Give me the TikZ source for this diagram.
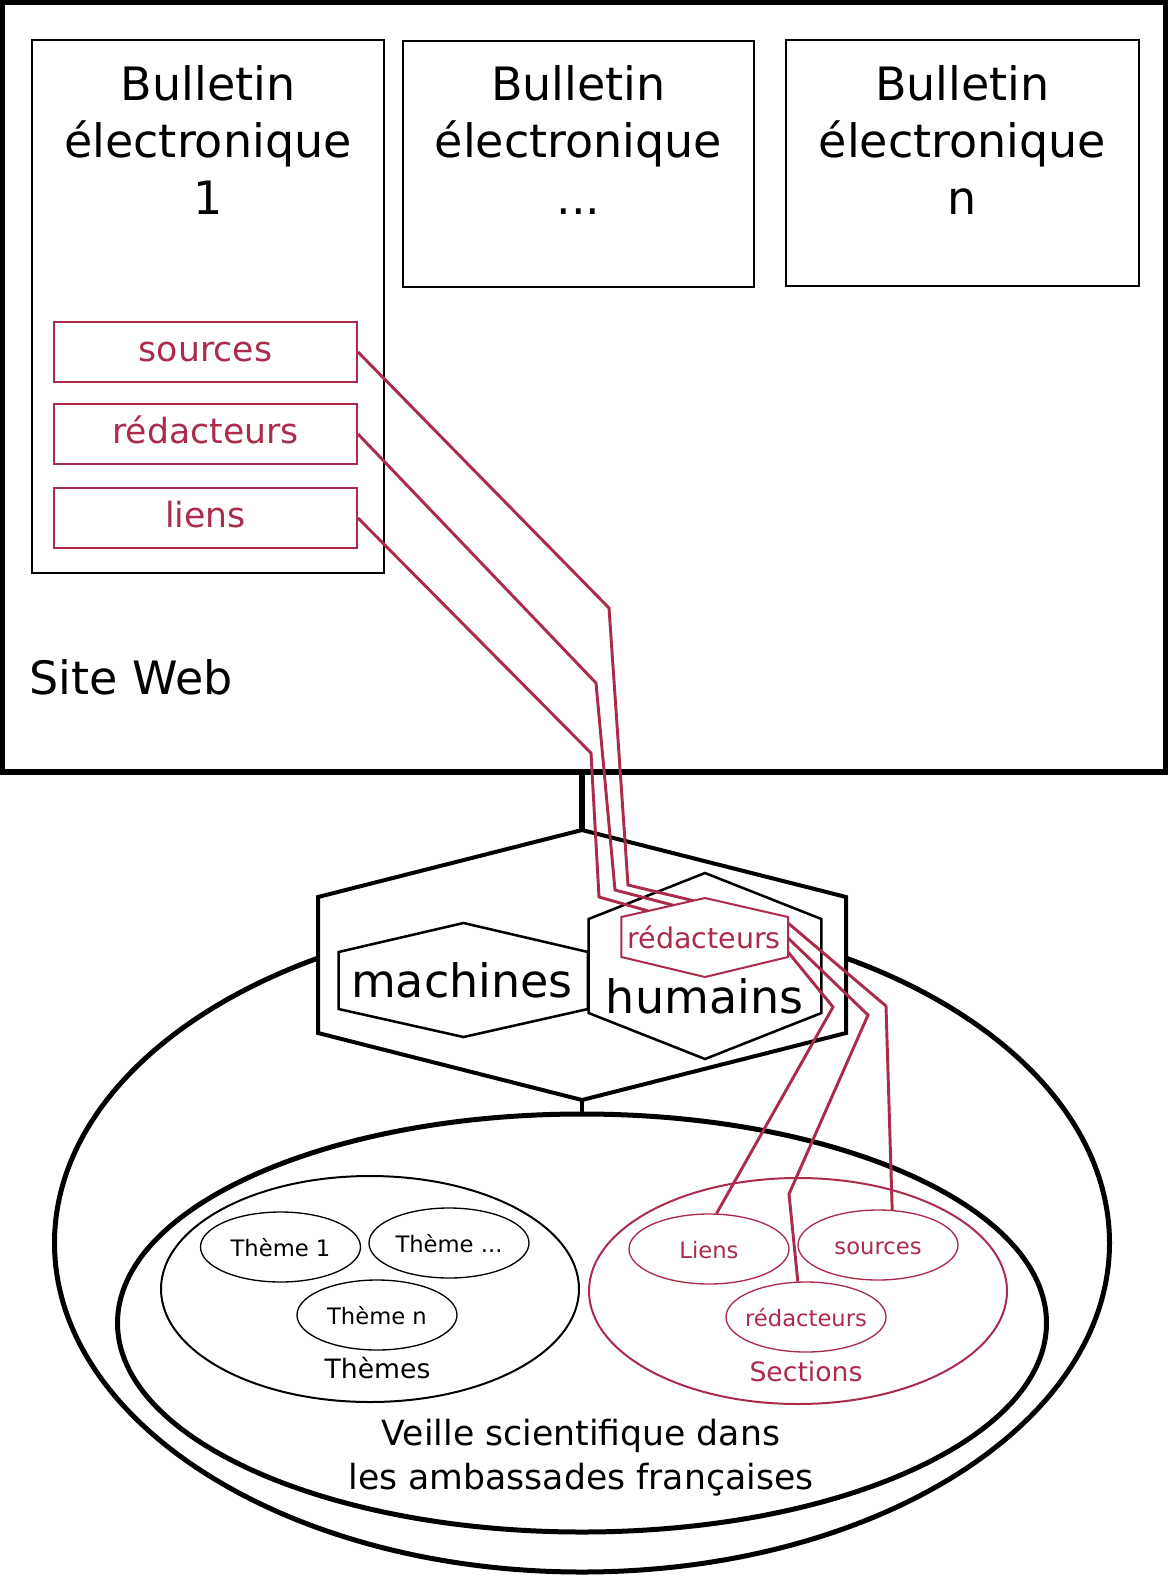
\documentclass[tikz,border=0pt]{standalone}
\usepackage{fontspec}
\setmainfont{DejaVu Sans}
\usetikzlibrary{shapes.geometric,calc}
\definecolor{framboise}{RGB}{170,43,74}
\begin{document}
\begin{tikzpicture}[x=0.75pt, y=-0.75pt,
  cadre/.style={draw=black, line width=4.1pt, minimum width=872.25pt, minimum height=577.1pt},
  bulletin/.style={draw=black, line width=2pt},
  titre/.style={font=\fontsize{34.5}{42.75}\selectfont, align=center, inner sep=0pt, anchor=base},
  champ/.style={draw=framboise, line width=1.5pt, text=framboise, font=\fontsize{26}{31}\selectfont, minimum width=227.25pt, minimum height=45pt, text height=19.8pt, text depth=6.2pt, inner sep=0pt},
  lien/.style={draw=framboise, line width=2.2pt},
  hexgros/.style={draw=black, line width=3pt, fill=white},
  hexfin/.style={draw=black, line width=1.9pt, fill=white},
  hexrouge/.style={draw=framboise, line width=1.5pt, fill=white},
  tige/.style={draw=black, line width=4.5pt},
  globe/.style={shape=ellipse, draw=black, line width=3.75pt},
  groupe/.style={shape=ellipse, draw, line width=1.5pt, minimum width=313.5pt, minimum height=169.5pt},
  petit/.style={shape=ellipse, draw, line width=1pt, minimum width=120pt, minimum height=52.5pt},
  petittexte/.style={font=\fontsize{17}{20}\selectfont, text height=13.6pt, text depth=0pt, inner sep=0pt},
  nomgroupe/.style={font=\fontsize{20}{24}\selectfont, anchor=base, inner sep=0pt}]
\useasboundingbox (0,0) rectangle (1173,1577);
\node[cadre] (site) at (584,387.25) {};
\node[titre, anchor=base west] (siteweb) at (29,694) {Site Web};
\node[bulletin, minimum width=264pt, minimum height=399.75pt] (b1) at (208,306.5) {};
\node[bulletin, minimum width=263.25pt, minimum height=184.5pt] (b2) at (578.5,164) {};
\node[bulletin, minimum width=264.75pt, minimum height=184.5pt] (b3) at (962.5,163) {};
\node[titre] (b1titre) at (208,214) {Bulletin\\électronique\\1};
\node[titre] (b2titre) at (578.5,214) {Bulletin\\électronique\\...};
\node[titre] (b3titre) at (962.5,214) {Bulletin\\électronique\\n};
\node[champ] (src) at (205.5,352) {sources};
\node[champ] (red) at (205.5,434) {rédacteurs};
\node[champ] (lie) at (205.5,518) {liens};
\node[globe, minimum width=791.25pt, minimum height=493.5pt] (veilleext) at (582,1243) {};
\node[globe, minimum width=696.75pt, minimum height=313.5pt] (veilleint) at (582,1323) {};
\draw[hexgros] (582,830) coordinate (noyau-n) -- (846,897) -- (846,1033) -- (582,1100) coordinate (noyau-s) -- (318,1033) -- (318,897) -- cycle;
\draw[tige] (noyau-n) -- (noyau-n |- site.south);
\draw[tige, line width=3.5pt] (noyau-s) -- (noyau-s |- veilleint.north);
\draw[hexfin] (463.5,923) -- (588,952) -- (588,1009) -- (463.5,1037) -- (338.6,1009) -- (338.6,952) -- cycle;
\draw[hexfin] (705,873) -- (821.4,919) -- (821.4,1013) -- (705,1059) -- (588.6,1013) -- (588.6,919) -- cycle;
\node[titre] (machines) at (462,997) {machines};
\node[titre] (humains) at (704.5,1013) {humains};
\draw[hexrouge] (705,898) coordinate (redh-n) -- (788,917) coordinate (redh-ne) -- (788,957) coordinate (redh-se) -- (705,977) -- (621.4,957) -- (621.4,917) coordinate (redh-nw) -- cycle;
\node[font=\fontsize{21.4}{25}\selectfont, text=framboise, anchor=base, inner sep=0pt] (redhtexte) at (704,948) {rédacteurs};
\node[font=\fontsize{26}{33}\selectfont, align=center, anchor=base, inner sep=0pt] (veilletexte) at (581,1489) {Veille scientifique dans\\les ambassades françaises};
\node[groupe] (themes) at (370,1289) {};
\node[petit] (theme1) at (280.5,1247) {};
\node[petit] (theme2) at (449,1243) {};
\node[petit] (theme3) at (377,1315) {};
\node[petittexte] at (theme1) {Thème 1};
\node[petittexte] at (theme2) {Thème ...};
\node[petittexte] at (theme3) {Thème n};
\node[nomgroupe] (themestexte) at (377.5,1378) {Thèmes};
\node[groupe, draw=framboise] (sections) at (798,1291) {};
\node[petit, draw=framboise] (liensec) at (709,1249) {};
\node[petit, draw=framboise] (srcsec) at (878,1245) {};
\node[petit, draw=framboise] (redsec) at (806,1317) {};
\node[petittexte, text=framboise] at (liensec) {Liens};
\node[petittexte, text=framboise] at (srcsec) {sources};
\node[petittexte, text=framboise] at (redsec) {rédacteurs};
\node[nomgroupe, text=framboise] (sectionstexte) at (806,1381) {Sections};
\draw[lien] (src.east) -- (609,608) -- (628,885) -- ($(redh-nw)!0.86!(redh-n)$);
\draw[lien] (red.east) -- (596,683) -- (615,890) -- ($(redh-nw)!0.62!(redh-n)$);
\draw[lien] (lie.east) -- (591,753) -- (599,897) -- ($(redh-nw)!0.32!(redh-n)$);
\draw[lien] ($(redh-ne)!0.15!(redh-se)$) -- (886,1006) -- (srcsec.68);
\draw[lien] ($(redh-ne)!0.525!(redh-se)$) -- (868,1015) -- (789,1194) -- (redsec.103);
\draw[lien] ($(redh-ne)!0.875!(redh-se)$) -- (833,1007) -- (liensec.78);
\end{tikzpicture}
\end{document}
